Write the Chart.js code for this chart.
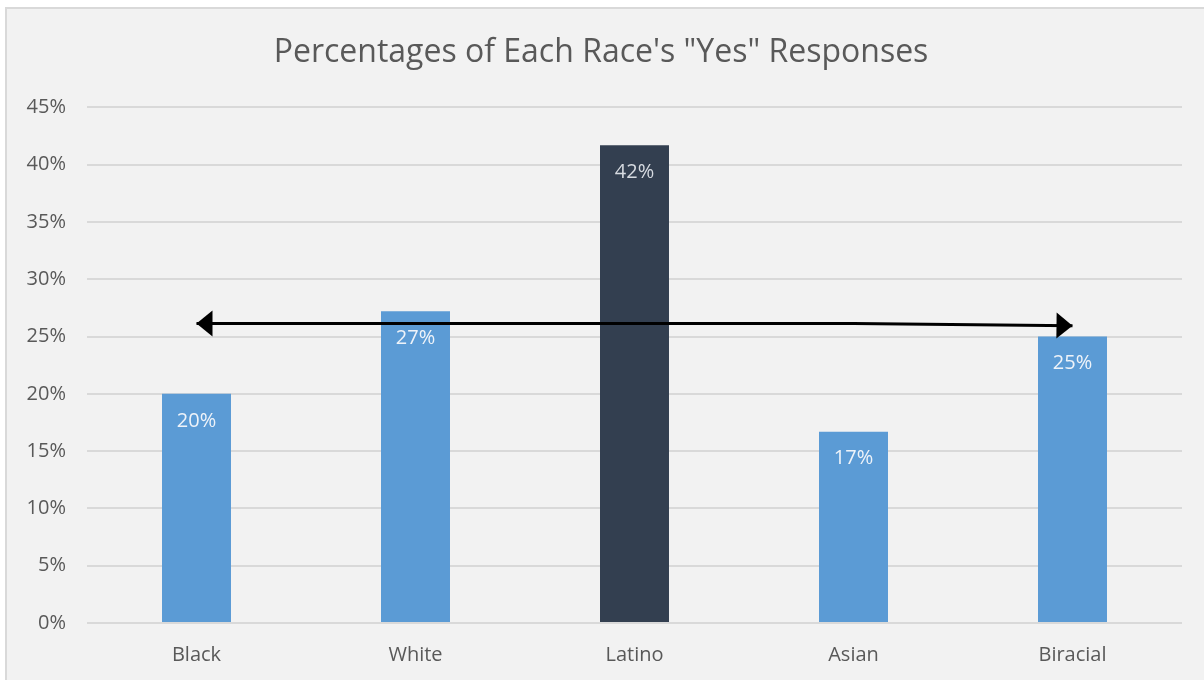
<!DOCTYPE html>
<html>
<head>
<meta charset="utf-8">
<title>Percentages of Each Race's "Yes" Responses</title>
<script src="https://cdn.jsdelivr.net/npm/chart.js"></script>
<style>
  html, body { margin: 0; padding: 0; background: #ffffff; overflow: hidden; }
  canvas { display: block; }
</style>
</head>
<body>
<canvas id="chart" width="1204" height="680"></canvas>
<script>
const categories = ['Black', 'White', 'Latino', 'Asian', 'Biracial'];
const yesPercent = [20.0, 27.2, 41.7, 16.7, 25.0];
const barColors = ['#5b9bd5', '#5b9bd5', '#333f50', '#5b9bd5', '#5b9bd5'];
// double-headed arrow running across the bars
const arrowLine = [26.15, 26.15, 26.15, 26.15, 25.95];
const yTicks = [0, 5, 10, 15, 20, 25, 30, 35, 40, 45];

const FONT = '"Open Sans", "Noto Sans", sans-serif';

// grey panel with thin border behind the chart
const panelBackground = {
  id: 'panelBackground',
  beforeDraw(chart) {
    const ctx = chart.ctx;
    ctx.save();
    ctx.fillStyle = '#ffffff';
    ctx.fillRect(0, 0, chart.width, chart.height);
    ctx.fillStyle = '#f2f2f2';
    ctx.fillRect(6, 8, chart.width, chart.height);
    ctx.strokeStyle = '#d9d9d9';
    ctx.lineWidth = 2;
    ctx.strokeRect(6, 8, chart.width + 10, chart.height + 10);
    ctx.restore();
  }
};

// value labels just inside the top of each bar
const barLabels = {
  id: 'barLabels',
  afterDatasetsDraw(chart) {
    const ctx = chart.ctx;
    const meta = chart.getDatasetMeta(0);
    ctx.save();
    ctx.font = '20px ' + FONT;
    ctx.textAlign = 'center';
    ctx.textBaseline = 'middle';
    meta.data.forEach((bar, i) => {
      ctx.fillStyle = i === 2 ? '#d6dae0' : '#eef3f9';
      ctx.fillText(Math.round(yesPercent[i]) + '%', bar.x, bar.y + 27);
    });
    ctx.restore();
  }
};

// arrowheads at both ends of the line dataset
const arrowHeads = {
  id: 'arrowHeads',
  afterDatasetsDraw(chart) {
    const pts = chart.getDatasetMeta(1).data;
    const ctx = chart.ctx;
    const head = (tip, from) => {
      const ang = Math.atan2(tip.y - from.y, tip.x - from.x);
      const len = 16, half = 13;
      ctx.beginPath();
      ctx.moveTo(tip.x, tip.y);
      ctx.lineTo(tip.x - len * Math.cos(ang) + half * Math.sin(ang), tip.y - len * Math.sin(ang) - half * Math.cos(ang));
      ctx.lineTo(tip.x - len * Math.cos(ang) - half * Math.sin(ang), tip.y - len * Math.sin(ang) + half * Math.cos(ang));
      ctx.closePath();
      ctx.fill();
    };
    ctx.save();
    ctx.fillStyle = '#000000';
    head(pts[0], pts[1]);
    head(pts[pts.length - 1], pts[pts.length - 2]);
    ctx.restore();
  }
};

new Chart(document.getElementById('chart'), {
  data: {
    labels: categories,
    datasets: [
      {
        type: 'bar',
        data: yesPercent,
        backgroundColor: barColors,
        barPercentage: 0.315,
        categoryPercentage: 1,
        order: 2
      },
      {
        type: 'line',
        data: arrowLine,
        borderColor: '#000000',
        borderWidth: 3,
        pointRadius: 0,
        tension: 0,
        order: 1
      }
    ]
  },
  options: {
    responsive: false,
    animation: false,
    layout: { padding: { left: 20, right: 22, top: 0, bottom: 0 } },
    plugins: {
      legend: { display: false },
      tooltip: { enabled: false },
      title: {
        display: true,
        text: 'Percentages of Each Race\'s "Yes" Responses',
        color: '#595959',
        font: { family: FONT, size: 32, weight: 'normal' },
        padding: { top: 34, bottom: 35 }
      }
    },
    scales: {
      x: {
        grid: { display: false, drawTicks: false },
        border: { display: false },
        ticks: { color: '#595959', font: { family: FONT, size: 20 }, padding: 20 },
        afterFit: s => { s.height = 57; }
      },
      y: {
        min: 0,
        max: 45,
        afterBuildTicks: s => { s.ticks = yTicks.map(v => ({ value: v })); },
        grid: { color: '#d9d9d9', lineWidth: 2, drawTicks: false },
        border: { display: false },
        ticks: {
          color: '#595959',
          font: { family: FONT, size: 20 },
          padding: 21,
          callback: v => v + '%'
        },
        afterFit: s => { s.width = 67; }
      }
    }
  },
  plugins: [panelBackground, barLabels, arrowHeads]
});
</script>
</body>
</html>
